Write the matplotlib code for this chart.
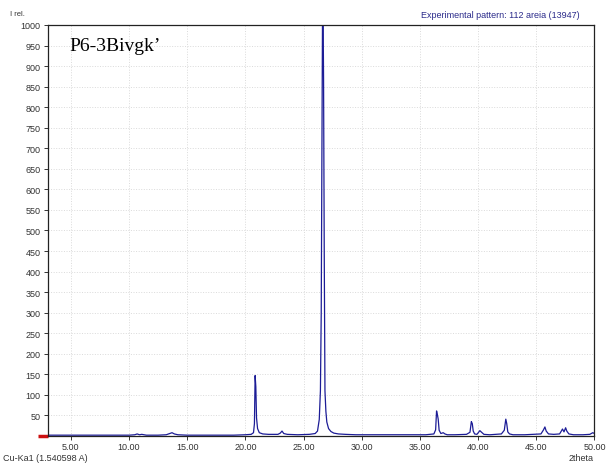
import numpy as np
import matplotlib.pyplot as plt

# diffraction pattern, 2theta (deg) vs relative intensity
two_theta = [3.0, 4.0, 5.0, 6.0, 7.0, 8.0, 9.0, 10.0, 10.5, 10.7, 10.9, 11.1, 11.5,
             12.5, 13.2, 13.5, 13.7, 13.9, 14.2, 15.0, 16.0, 17.0, 18.0, 19.0, 20.0,
             20.5, 20.7, 20.78, 20.84, 20.9, 20.96, 21.05, 21.2, 21.5, 22.0, 22.8,
             23.0, 23.15, 23.3, 23.6, 24.5, 25.5, 26.0, 26.2, 26.35, 26.45, 26.52,
             26.58, 26.65, 26.72, 26.78, 26.84, 26.92, 27.0, 27.15, 27.35, 27.6, 28.0,
             28.6, 29.5, 31.0, 32.5, 34.0, 35.5, 36.2, 36.35, 36.43, 36.5, 36.57,
             36.65, 36.8, 37.0, 37.15, 37.35, 38.0, 39.0, 39.3, 39.42, 39.5, 39.58,
             39.7, 39.9, 40.15, 40.3, 40.5, 41.0, 42.0, 42.25, 42.38, 42.46, 42.55,
             42.7, 43.0, 44.0, 45.4, 45.62, 45.74, 45.85, 46.05, 46.5, 47.0, 47.15,
             47.25, 47.38, 47.52, 47.62, 47.8, 48.2, 49.0, 49.6, 49.85, 50.0]
intensity = [2, 2, 2, 2, 2, 2, 2, 2, 3, 5, 3, 4, 2,
             2, 3, 6, 8, 5, 3, 2, 2, 2, 2, 2, 3,
             4, 8, 30, 147, 120, 44, 18, 8, 5, 4, 4,
             7, 12, 6, 4, 3, 4, 6, 12, 40, 110, 300,
             700, 1150, 870, 440, 110, 60, 34, 18, 11, 7, 5,
             4, 3, 3, 3, 3, 3, 5, 15, 61, 52, 41,
             14, 6, 8, 5, 3, 3, 4, 9, 35, 30, 12,
             5, 4, 13, 9, 4, 3, 5, 14, 41, 30, 10,
             5, 3, 3, 5, 15, 22, 12, 5, 4, 5, 12,
             17, 10, 20, 12, 5, 3, 3, 4, 8, 6]

fig = plt.figure(figsize=(6.06, 4.64), dpi=100)
ax = fig.add_axes([0.0784, 0.0582, 0.9026, 0.8858])

ax.plot(two_theta, intensity, color='#1c1c96', lw=0.9)

ax.set_xlim(3, 50)
ax.set_ylim(0, 1000)
ax.set_xticks(np.arange(5, 51, 5))
ax.set_xticklabels(['%.2f' % v for v in np.arange(5, 51, 5)])
ax.set_yticks(np.arange(50, 1001, 50))
ax.tick_params(labelsize=6.5, length=3, width=0.7, colors='#333333', pad=2)
ax.tick_params(axis='x', pad=1.5)
for lbl in ax.get_xticklabels() + ax.get_yticklabels():
    lbl.set_family('Liberation Sans')

ax.grid(True, color='#dadada', linestyle=':', linewidth=0.7)
for s in ax.spines.values():
    s.set_color('#222222')
    s.set_linewidth(0.9)

# red marker at the origin
ax.plot([2.2, 3.0], [0, 0], color='#cc1111', lw=2.5, clip_on=False, solid_capstyle='butt')

fig.text(10 / 606, 1 - 14 / 464, 'I rel.', fontsize=5.5, family='Liberation Sans',
         color='#333333', va='center')
fig.text(3 / 606, 1 - 459 / 464, 'Cu-Ka1 (1.540598 A)', fontsize=6.5, family='Liberation Sans',
         color='#333333', va='center')
fig.text(594 / 606, 1 - 459 / 464, '2theta', fontsize=6.5, family='Liberation Sans',
         color='#333333', va='center', ha='right')
fig.text(580 / 606, 1 - 15 / 464, 'Experimental pattern: 112 areia (13947)', fontsize=6.5,
         family='Liberation Sans', color='#2a2a8a', va='center', ha='right')
ax.text(4.9, 950, 'P6-3Bivgk\u2019', fontsize=14, family='Liberation Serif', color='black',
        va='center')

plt.savefig('out.png', dpi=100)
